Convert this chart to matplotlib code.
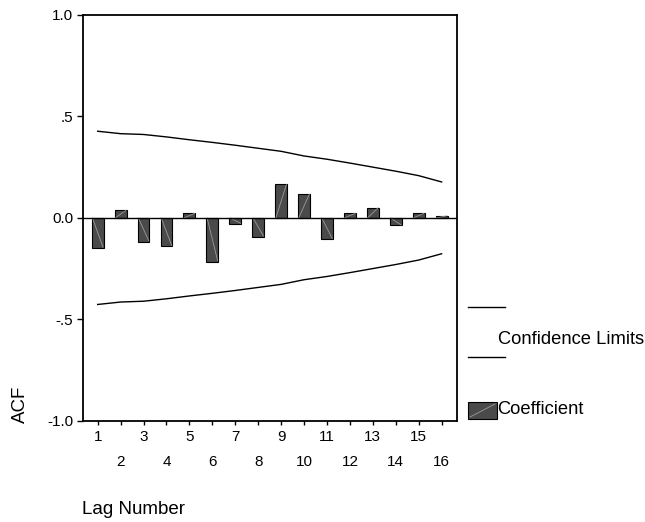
import matplotlib
matplotlib.use("Agg")
import matplotlib.pyplot as plt
from matplotlib.lines import Line2D
from matplotlib.patches import Rectangle

plt.rcParams['font.family'] = ['Liberation Sans', 'DejaVu Sans']

lags = list(range(1, 17))
acf = [-0.148, 0.038, -0.117, -0.141, 0.023, -0.217, -0.028, -0.092,
       0.169, 0.120, -0.105, 0.023, 0.051, -0.036, 0.023, 0.010]
conf_upper = [0.427, 0.415, 0.411, 0.399, 0.385, 0.372, 0.358, 0.343,
              0.328, 0.305, 0.289, 0.270, 0.250, 0.230, 0.208, 0.177]
conf_lower = [-v for v in conf_upper]
ytick_vals = [-1.0, -0.5, 0.0, 0.5, 1.0]
ytick_labels = ['-1.0', '-.5', '0.0', '.5', '1.0']

W, H = 645, 522
fig = plt.figure(figsize=(W / 100, H / 100), dpi=100)
ax = fig.add_axes([83 / W, 1 - 420.7 / H, (457 - 83) / W, (420.7 - 15) / H])

bar_w = 0.52
ax.bar(lags, acf, width=bar_w, color='#4a4a4a', edgecolor='black', linewidth=0.8, zorder=3)
for x, v in zip(lags, acf):
    ax.plot([x - bar_w / 2 + 0.03, x + bar_w / 2 - 0.03], [0, v * 0.97],
            color='#9a9a9a', linewidth=0.6, zorder=4)
ax.axhline(0, color='black', linewidth=1.0, zorder=5)
ax.plot(lags, conf_upper, color='black', linewidth=1.0, zorder=2)
ax.plot(lags, conf_lower, color='black', linewidth=1.0, zorder=2)

ax.set_xlim(0.36, 16.67)
ax.set_ylim(-1.0, 1.0)
ax.set_yticks(ytick_vals)
ax.set_yticklabels(ytick_labels)
odd = [l for l in lags if l % 2 == 1]
even = [l for l in lags if l % 2 == 0]
ax.set_xticks(odd)
ax.set_xticklabels([str(l) for l in odd])
ax.set_xticks(even, minor=True)
ax.set_xticklabels([str(l) for l in even], minor=True)
ax.tick_params(axis='x', which='major', length=3, width=1.0, pad=3.5, labelsize=11)
ax.tick_params(axis='x', which='minor', length=3, width=1.0, pad=21.5, labelsize=11)
ax.tick_params(axis='y', length=4, width=1.0, pad=3, labelsize=11)
for s in ax.spines.values():
    s.set_linewidth(1.3)

fig.text(20 / W, 1 - 404 / H, 'ACF', rotation=90, ha='center', va='center', fontsize=13.5)
fig.text(82 / W, 1 - 510 / H, 'Lag Number', ha='left', va='center', fontsize=13.5)

# legend
for yy in (307, 357):
    fig.add_artist(Line2D([468 / W, 505 / W], [1 - yy / H, 1 - yy / H], color='black', linewidth=1.0))
fig.text(498 / W, 1 - 340 / H, 'Confidence Limits', ha='left', va='center', fontsize=13.2)
fig.add_artist(Rectangle((468 / W, 1 - 419 / H), 29 / W, 17 / H, facecolor='#4a4a4a',
                         edgecolor='black', linewidth=0.8, transform=fig.transFigure))
fig.add_artist(Line2D([470 / W, 495 / W], [1 - 417 / H, 1 - 404 / H], color='#9a9a9a', linewidth=0.6))
fig.text(497 / W, 1 - 410 / H, 'Coefficient', ha='left', va='center', fontsize=13.2)

fig.savefig('out.png', dpi=100)
